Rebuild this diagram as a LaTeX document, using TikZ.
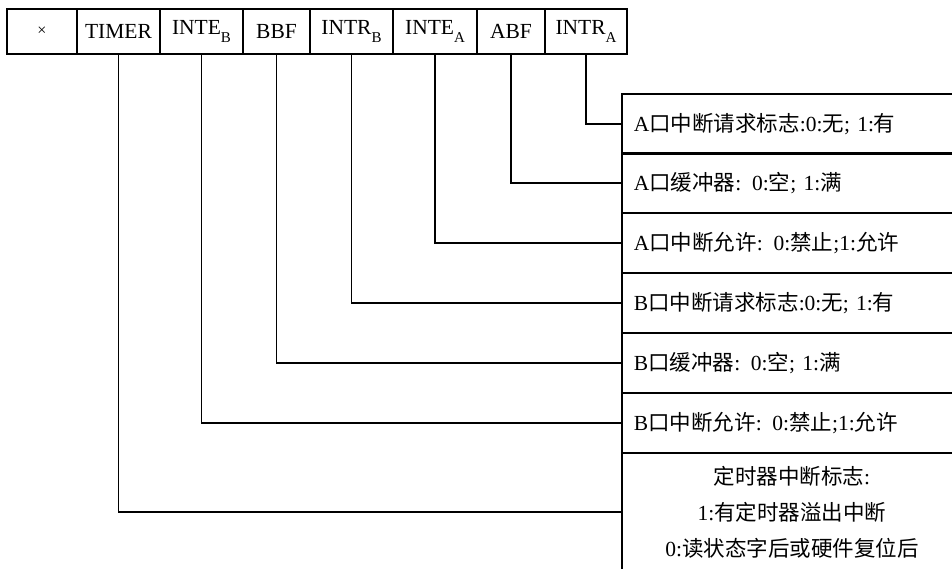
\documentclass[tikz,border=0pt]{standalone}
\usepackage{fontspec}
\setmainfont{Liberation Serif}
\newfontfamily\cjk{Noto Sans CJK SC}
\newcommand\zhtext[1]{{\cjk #1}}
\newcommand\lowsub[1]{\raisebox{-0.4em}{\fontsize{15}{15}\selectfont #1}}
\begin{document}
\begin{tikzpicture}[x=1pt,y=-1pt,
  line width=1.8pt,
  regcell/.style={draw, inner sep=0pt, minimum height=45pt,
    font={\fontsize{21.5}{24}\selectfont}},
  flagbox/.style={draw, anchor=north west, inner xsep=12pt, inner ysep=0pt,
    text width=316pt, minimum height=60pt, align=left,
    font={\fontsize{21.5}{24}\selectfont}},
  wire/.style={line width=1.8pt}]
\useasboundingbox (0,0) rectangle (952,568);
\clip (0,0) rectangle (952,568);

% status register bits
\node[regcell, minimum width=70pt] (bx)   at (42,31.5)  {\fontsize{16}{16}\selectfont ×};
\node[regcell, minimum width=83pt] (tmr)  at (118.5,31.5) {TIMER};
\node[regcell, minimum width=83pt] (inteb) at (201.5,31.5) {INTE\lowsub{B}};
\node[regcell, minimum width=67pt] (bbf)  at (276.5,31.5) {BBF};
\node[regcell, minimum width=83pt] (intrb) at (351.5,31.5) {INTR\lowsub{B}};
\node[regcell, minimum width=84pt] (intea) at (435,31.5)   {INTE\lowsub{A}};
\node[regcell, minimum width=68pt] (abf)  at (511,31.5)   {ABF};
\node[regcell, minimum width=82pt] (intra) at (586,31.5)   {INTR\lowsub{A}};

% meaning of each bit
\node[flagbox] (f1) at (621,93)  {A\zhtext{口中断请求标志}:0:\zhtext{无}; 1:\zhtext{有}};
\node[flagbox] (f2) at (621,152) {A\zhtext{口缓冲器}: 0:\zhtext{空}; 1:\zhtext{满}};
\node[flagbox] (f3) at (621,212) {A\zhtext{口中断允许}: 0:\zhtext{禁止};1:\zhtext{允许}};
\node[flagbox] (f4) at (621,272) {B\zhtext{口中断请求标志}:0:\zhtext{无}; 1:\zhtext{有}};
\node[flagbox] (f5) at (621,332) {B\zhtext{口缓冲器}: 0:\zhtext{空}; 1:\zhtext{满}};
\node[flagbox] (f6) at (621,392) {B\zhtext{口中断允许}: 0:\zhtext{禁止};1:\zhtext{允许}};
\node[flagbox, align=center, minimum height=118pt,
  font={\fontsize{21.5}{36}\selectfont}] (f7) at (621,452)
  {\zhtext{定时器中断标志}:\\1:\zhtext{有定时器溢出中断}\\0:\zhtext{读状态字后或硬件复位后}};

% connectors
\draw[wire] (intra.south) |- (f1.west);
\draw[wire] (abf.south)   |- (f2.west);
\draw[wire] (intea.south) |- (f3.west);
\draw[wire] (intrb.south) |- (f4.west);
\draw[wire] (bbf.south)   |- (f5.west);
\draw[wire] (inteb.south) |- (f6.west);
\draw[wire] (tmr.south)   |- (f7.west);
\end{tikzpicture}
\end{document}
